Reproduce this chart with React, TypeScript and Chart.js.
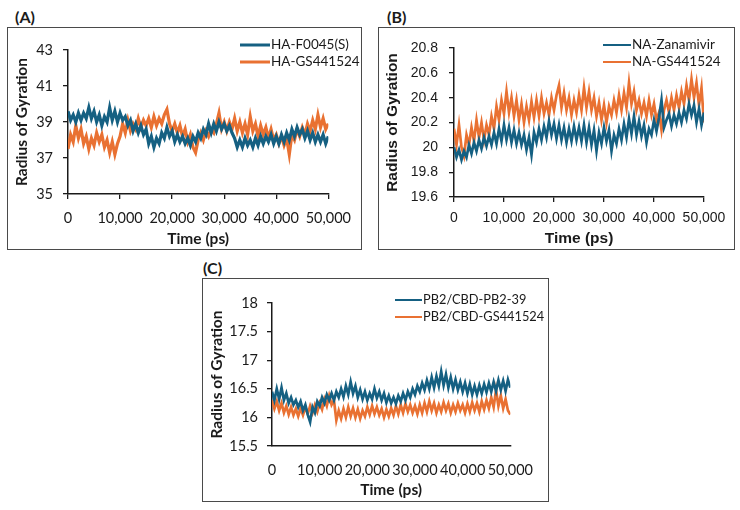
import React, { useEffect, useRef } from "react";
import { Chart, registerables } from "chart.js";

Chart.register(...registerables);

const TIME_STEP = 500;
const X_TICKS_STEP = 10000;

const A_LABELS = ["HA-F0045(S)", "HA-GS441524"];
const A_BLUE = [
  39.6, 39.1, 39.4, 39.0, 39.5, 39.1, 39.5, 39.2, 39.8, 39.2, 39.6, 39.0, 39.4, 38.8, 39.3, 39.0, 39.8, 39.1, 39.6, 39.0,
  39.5, 39.1, 39.3, 38.8, 39.1, 38.5, 38.9, 38.4, 38.8, 38.3, 38.6, 37.8, 38.2, 37.6, 38.1, 37.8, 38.4, 38.1, 38.7, 38.2,
  38.5, 37.9, 38.3, 37.9, 38.2, 37.8, 38.1, 37.7, 38.2, 37.9, 38.4, 38.1, 38.6, 38.3, 38.9, 38.4, 38.9, 38.5, 39.0, 38.6,
  38.9, 38.5, 38.8, 38.4, 38.1, 37.6, 38.0, 37.6, 38.1, 37.7, 38.0, 37.6, 38.1, 37.7, 38.2, 37.8, 38.2, 37.9, 38.3, 37.8,
  38.2, 37.8, 38.3, 37.9, 38.4, 38.0, 38.6, 38.2, 38.7, 38.3, 38.6, 38.1, 38.5, 38.0, 38.4, 37.9, 38.3, 37.9, 38.3, 37.8,
  38.2,
];
const A_ORANGE = [
  37.5, 38.3, 37.9, 38.8, 38.1, 38.6, 37.8, 38.2, 37.5, 38.1, 37.7, 38.4, 37.9, 38.3, 37.6, 38.0, 37.3, 37.9, 37.2, 37.8,
  38.2, 38.9, 38.4, 39.1, 38.5, 38.9, 38.6, 39.2, 38.7, 39.1, 38.8, 39.2, 38.7, 39.3, 38.8, 39.2, 38.9, 39.4, 39.7, 38.9,
  38.5, 38.9, 38.4, 38.8, 38.2, 38.6, 37.9, 38.3, 37.6, 37.3, 38.0, 38.4, 38.0, 38.5, 38.2, 38.6, 38.4, 38.9, 39.5, 38.6,
  39.0, 38.5, 39.0, 38.6, 39.2, 38.5, 39.0, 38.4, 38.9, 38.3, 39.3, 38.5, 38.9, 38.2, 38.8, 38.3, 38.7, 38.1, 38.6, 38.0,
  38.3, 37.8, 38.2, 37.7, 38.1, 37.2, 38.3, 38.0, 38.6, 38.2, 38.7, 38.3, 38.9, 38.5, 39.1, 38.6, 39.4, 38.7, 39.2, 38.6,
  38.9,
];
const A_Y_TICKS = { min: 35, max: 43, step: 2 };

const B_LABELS = ["NA-Zanamivir", "NA-GS441524"];
const B_BLUE = [
  20.0, 19.92, 19.98, 19.9, 19.97, 19.92, 20.02, 19.95, 20.04, 19.97, 20.06, 19.99, 20.08, 20.01, 20.09, 20.02, 20.12, 20.03, 20.15, 20.05,
  20.18, 20.06, 20.16, 20.04, 20.14, 20.03, 20.12, 20.02, 20.1, 19.98, 20.08, 19.94, 20.12, 20.04, 20.15, 20.06, 20.17, 20.08, 20.21, 20.1,
  20.19, 20.07, 20.18, 20.06, 20.16, 20.04, 20.15, 20.05, 20.17, 20.06, 20.16, 20.05, 20.18, 20.04, 20.16, 20.02, 20.14, 19.97, 20.12, 20.03,
  20.16, 20.05, 20.14, 19.97, 20.1, 20.03, 20.15, 20.06, 20.19, 20.08, 20.23, 20.11, 20.25, 20.1, 20.21, 20.09, 20.18, 20.04, 20.15, 20.1,
  20.22, 20.13, 20.24, 20.38, 20.16, 20.22, 20.27, 20.17, 20.26, 20.19, 20.28, 20.2, 20.3, 20.23, 20.35, 20.26, 20.34, 20.2, 20.31, 20.18,
  20.28,
];
const B_ORANGE = [
  20.15, 20.02, 20.18, 20.0, 19.93, 20.1, 20.02, 20.16, 20.05, 20.22, 20.08, 20.2, 20.06, 20.18, 20.1, 20.25, 20.15, 20.33, 20.22, 20.38,
  20.27, 20.45, 20.28, 20.4, 20.25, 20.38, 20.22, 20.35, 20.2, 20.33, 20.22, 20.37, 20.24, 20.38, 20.25, 20.4, 20.27, 20.36, 20.26, 20.4,
  20.3, 20.42, 20.5, 20.32, 20.44, 20.3, 20.4, 20.26, 20.38, 20.28, 20.42, 20.3, 20.48, 20.32, 20.45, 20.3, 20.4, 20.25, 20.36, 20.22,
  20.34, 20.2, 20.33, 20.26, 20.38, 20.28, 20.42, 20.3, 20.44, 20.32, 20.52, 20.35, 20.45, 20.3, 20.38, 20.27, 20.36, 20.25, 20.38, 20.26,
  20.35, 20.22, 20.28, 20.14, 20.3, 20.38, 20.28, 20.4, 20.3, 20.42, 20.32, 20.45, 20.35, 20.5, 20.38, 20.55, 20.4, 20.52, 20.34, 20.48,
  20.2,
];
const B_Y_TICKS = { min: 19.6, max: 20.8, step: 0.2 };

const C_LABELS = ["PB2/CBD-PB2-39", "PB2/CBD-GS441524"];
const C_BLUE = [
  16.45, 16.3, 16.5, 16.32, 16.52, 16.3, 16.42, 16.25, 16.35, 16.22, 16.3, 16.18, 16.28, 16.12, 16.22, 16.05, 15.92, 16.18, 16.08, 16.28,
  16.2, 16.35, 16.25, 16.4, 16.3, 16.42, 16.3, 16.45, 16.35, 16.5, 16.36, 16.55, 16.4, 16.62, 16.42, 16.55, 16.35, 16.48, 16.32, 16.45,
  16.3, 16.42, 16.32, 16.5, 16.34, 16.45, 16.3, 16.42, 16.26, 16.38, 16.25, 16.35, 16.24, 16.38, 16.28, 16.42, 16.3, 16.45, 16.35, 16.5,
  16.4, 16.55, 16.45, 16.6, 16.48, 16.65, 16.5, 16.7, 16.52, 16.72, 16.55, 16.8, 16.56, 16.75, 16.52, 16.7, 16.5, 16.66, 16.48, 16.62,
  16.45, 16.6, 16.42, 16.58, 16.4, 16.55, 16.4, 16.56, 16.42, 16.58, 16.44, 16.6, 16.45, 16.62, 16.46, 16.65, 16.48, 16.64, 16.46, 16.66,
  16.52,
];
const C_ORANGE = [
  16.3, 16.15, 16.28, 16.12, 16.25, 16.08, 16.2, 16.05, 16.18, 16.04, 16.15, 16.02, 16.16, 16.04, 16.18, 16.06, 16.2, 16.08, 16.22, 16.1,
  16.25, 16.14, 16.32, 16.2, 16.38, 16.22, 16.3, 15.95, 16.12, 15.98, 16.15, 16.0, 16.18, 16.02, 16.16, 16.0, 16.14, 15.98, 16.12, 16.02,
  16.18, 16.05, 16.2, 16.06, 16.18, 16.04, 16.15, 16.0, 16.14, 16.02, 16.16, 16.04, 16.2, 16.06, 16.22, 16.08, 16.24, 16.1, 16.22, 16.08,
  16.2, 16.06, 16.22, 16.08, 16.25, 16.1, 16.28, 16.12, 16.25, 16.08, 16.22, 16.1, 16.26, 16.12, 16.24, 16.08, 16.22, 16.1, 16.25, 16.12,
  16.22, 16.08, 16.24, 16.1, 16.26, 16.12, 16.25, 16.1, 16.28, 16.14, 16.3, 16.16, 16.35, 16.18, 16.48, 16.2, 16.38, 16.16, 16.32, 16.12,
  16.05,
];
const C_Y_TICKS = { min: 15.5, max: 18, step: 0.5 };

const BLUE = "#156082";
const ORANGE = "#E97132";
const INK = "#1a1a1a";

const lineLegend = {
  id: "lineLegend",
  afterDraw(chart: any, _args: any, opts: any) {
    const ctx = chart.ctx;
    chart.data.datasets.forEach((ds: any, i: number) => {
      const y = opts.y + i * opts.gap;
      ctx.save();
      ctx.strokeStyle = ds.borderColor;
      ctx.lineWidth = opts.lineWidth;
      ctx.beginPath();
      ctx.moveTo(opts.x, y);
      ctx.lineTo(opts.x + opts.len, y);
      ctx.stroke();
      ctx.fillStyle = INK;
      ctx.font = `${opts.size}px Lato`;
      ctx.textBaseline = "middle";
      ctx.textAlign = "left";
      ctx.fillText(ds.label, opts.x + opts.len + 1, y);
      ctx.restore();
    });
  },
};

type PanelCfg = {
  tag: string;
  box: { left: number; top: number; width: number; height: number };
  tagPos: { left: number; top: number };
  labels: string[];
  blue: number[];
  orange: number[];
  yTicks: { min: number; max: number; step: number };
  padding: { top: number; right: number };
  yWidth: number;
  xHeight: number;
  tickFont: string;
  tickSize: number;
  titleFont: string;
  titleSize: number;
  yTickPad: number;
  xTickPad: number;
  xTickMarks: boolean;
  yTitlePad: number;
  xTitlePad: number;
  lineWidth: number;
  legend: { x: number; y: number; gap: number; len: number; lineWidth: number; size: number };
};

const PANELS: PanelCfg[] = [
  {
    tag: "(A)",
    box: { left: 7, top: 27, width: 356, height: 224 },
    tagPos: { left: 15, top: 8 },
    labels: A_LABELS,
    blue: A_BLUE,
    orange: A_ORANGE,
    yTicks: A_Y_TICKS,
    padding: { top: 22, right: 29 },
    yWidth: 60,
    xHeight: 56,
    tickFont: "Lato",
    tickSize: 14.5,
    titleFont: "Lato",
    titleSize: 15.5,
    yTickPad: 10,
    xTickPad: 11,
    xTickMarks: true,
    yTitlePad: 5,
    xTitlePad: 2,
    lineWidth: 3.2,
    legend: { x: 232, y: 17, gap: 17, len: 30, lineWidth: 3, size: 13.5 },
  },
  {
    tag: "(B)",
    box: { left: 378, top: 27, width: 358, height: 224 },
    tagPos: { left: 387, top: 8 },
    labels: B_LABELS,
    blue: B_BLUE,
    orange: B_ORANGE,
    yTicks: B_Y_TICKS,
    padding: { top: 20, right: 31 },
    yWidth: 75,
    xHeight: 53,
    tickFont: "Liberation Sans",
    tickSize: 14,
    titleFont: "Liberation Sans",
    titleSize: 15.5,
    yTickPad: 11,
    xTickPad: 8,
    xTickMarks: true,
    yTitlePad: 4,
    xTitlePad: 2,
    lineWidth: 2.7,
    legend: { x: 224, y: 17, gap: 17, len: 28, lineWidth: 2, size: 13.5 },
  },
  {
    tag: "(C)",
    box: { left: 202, top: 278, width: 348, height: 225 },
    tagPos: { left: 203, top: 259 },
    labels: C_LABELS,
    blue: C_BLUE,
    orange: C_ORANGE,
    yTicks: C_Y_TICKS,
    padding: { top: 24, right: 29 },
    yWidth: 69,
    xHeight: 56,
    tickFont: "Lato",
    tickSize: 14.5,
    titleFont: "Lato",
    titleSize: 15.5,
    yTickPad: 9,
    xTickPad: 16,
    xTickMarks: false,
    yTitlePad: 5,
    xTitlePad: 3,
    lineWidth: 2.7,
    legend: { x: 192, y: 21, gap: 17, len: 27, lineWidth: 2, size: 12.8 },
  },
];

function fmtY(v: number) {
  return String(Number(Number(v).toFixed(1)));
}

function Panel({ cfg }: { cfg: PanelCfg }) {
  const ref = useRef<HTMLCanvasElement | null>(null);
  const cw = cfg.box.width - 2;
  const ch = cfg.box.height - 2;
  useEffect(() => {
    if (!ref.current) return;
    const mk = (vals: number[]) => vals.map((v, i) => ({ x: i * TIME_STEP, y: v }));
    const chart = new Chart(ref.current, {
      type: "line",
      data: {
        datasets: [
          {
            label: cfg.labels[0],
            data: mk(cfg.blue),
            borderColor: BLUE,
            borderWidth: cfg.lineWidth,
            pointRadius: 0,
            tension: 0,
          },
          {
            label: cfg.labels[1],
            data: mk(cfg.orange),
            borderColor: ORANGE,
            borderWidth: cfg.lineWidth,
            pointRadius: 0,
            tension: 0,
          },
        ],
      },
      options: {
        animation: false,
        responsive: false,
        maintainAspectRatio: false,
        devicePixelRatio: 1,
        layout: { padding: { top: cfg.padding.top, right: cfg.padding.right, left: 0, bottom: 0 } },
        plugins: {
          legend: { display: false },
          tooltip: { enabled: false },
          lineLegend: cfg.legend,
        } as any,
        scales: {
          x: {
            type: "linear",
            min: 0,
            max: 50000,
            ticks: {
              stepSize: X_TICKS_STEP,
              padding: cfg.xTickPad,
              color: INK,
              font: { family: cfg.tickFont, size: cfg.tickSize },
              maxRotation: 0,
              callback: (v: any) => Number(v).toLocaleString("en-US"),
            },
            grid: {
              display: true,
              drawOnChartArea: false,
              drawTicks: cfg.xTickMarks,
              tickLength: 5,
              color: INK,
              lineWidth: 1.3,
            },
            border: { display: true, color: INK, width: 1.5 },
            title: {
              display: true,
              text: "Time (ps)",
              color: INK,
              font: { family: cfg.titleFont, size: cfg.titleSize, weight: "bold" },
              padding: { top: 0, bottom: cfg.xTitlePad },
            },
            afterFit: (s: any) => {
              s.height = cfg.xHeight;
            },
          },
          y: {
            type: "linear",
            min: cfg.yTicks.min,
            max: cfg.yTicks.max,
            ticks: {
              stepSize: cfg.yTicks.step,
              padding: cfg.yTickPad,
              color: INK,
              font: { family: cfg.tickFont, size: cfg.tickSize },
              callback: (v: any) => fmtY(v),
            },
            grid: {
              display: true,
              drawOnChartArea: false,
              drawTicks: true,
              tickLength: 5,
              color: INK,
              lineWidth: 1.3,
            },
            border: { display: true, color: INK, width: 1.5 },
            title: {
              display: true,
              text: "Radius of Gyration",
              color: INK,
              font: { family: cfg.titleFont, size: cfg.titleSize, weight: "bold" },
              padding: { top: cfg.yTitlePad, bottom: 0 },
            },
            afterFit: (s: any) => {
              s.width = cfg.yWidth;
            },
          },
        },
      } as any,
      plugins: [lineLegend],
    });
    return () => chart.destroy();
  }, []);
  return (
    <>
      <div
        style={{
          position: "absolute",
          left: cfg.tagPos.left,
          top: cfg.tagPos.top,
          fontFamily: "Lato",
          fontWeight: "bold",
          fontSize: 16,
          lineHeight: "18px",
          color: INK,
        }}
      >
        {cfg.tag}
      </div>
      <div
        style={{
          position: "absolute",
          left: cfg.box.left,
          top: cfg.box.top,
          width: cfg.box.width - 3,
          height: cfg.box.height - 3,
          border: "1.5px solid #4a4a4a",
          background: "#fff",
        }}
      >
        <canvas
          ref={ref}
          width={cw}
          height={ch}
          style={{ position: "absolute", left: -0.5, top: -0.5, width: cw, height: ch, display: "block" }}
        />
      </div>
    </>
  );
}

export default function App() {
  return (
    <div style={{ position: "absolute", left: 0, top: 0, width: 740, height: 510, background: "#fff", overflow: "hidden" }}>
      {PANELS.map((p) => (
        <Panel key={p.tag} cfg={p} />
      ))}
    </div>
  );
}
